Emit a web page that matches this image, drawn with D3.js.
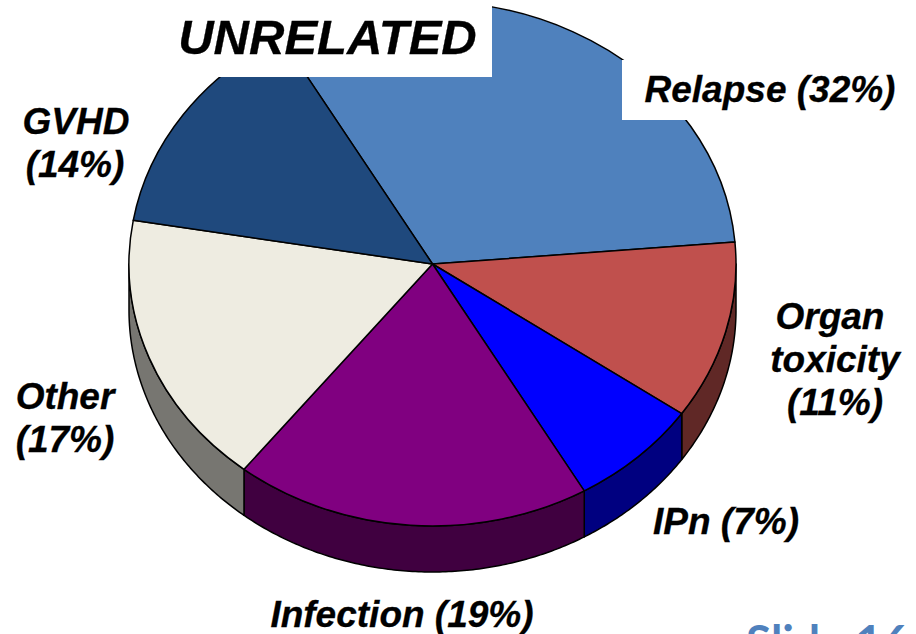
<!DOCTYPE html>
<html><head><meta charset="utf-8">
<script src="https://cdn.jsdelivr.net/npm/d3@7/dist/d3.min.js"></script>
<style>html,body{margin:0;padding:0;background:#fff;overflow:hidden}svg{display:block}
.lab{font-family:"Liberation Sans",Arial,sans-serif;font-weight:bold;font-style:italic;fill:#000;stroke:#000;stroke-width:0.3;text-anchor:middle}</style>
</head><body><svg id="c" width="916" height="634"></svg>
<script>
const categories=["Relapse","Organ toxicity","IPn","Infection","Other","GVHD"];
const values=[32,11,7,19,17,14];
const topColors=["#4f81bd","#c0504d","#0000ff","#800080","#eeece1","#1f497d"];
const sideColors=["#284060","#602826","#000080","#400040","#777671","#102540"];
const labelLines=[["Relapse (32%)"],["Organ","toxicity","(11%)"],["IPn (7%)"],["Infection (19%)"],["Other","(17%)"],["GVHD","(14%)"]];
const labelX=[[770],[830,835,835],[726],[402],[65,65],[76,75]];
const labelY=[102,329,534,627,409,134];
const title="UNRELATED", footer="Slide 16";

const W=916,H=634,cx=432.5,cy=264,rx=303.5,ry=262,depth=46;
const svg=d3.select("#c");
const pie=d3.pie().sort(null).startAngle(-30/180*Math.PI).endAngle((2-30/180)*Math.PI).value(d=>d);
const arcs=pie(values);
const px=a=>cx+rx*Math.sin(a), py=a=>cy-ry*Math.cos(a);
const line=d3.line().x(d=>d[0]).y(d=>d[1]);
const H90=Math.PI/2, H270=3*Math.PI/2;

arcs.forEach((d,i)=>{
  const vis=[[d.startAngle,d.endAngle],[d.startAngle+2*Math.PI,d.endAngle+2*Math.PI]];
  vis.forEach(([s,e])=>{
    const a0=Math.max(s,H90),a1=Math.min(e,H270);
    if(a1<=a0)return;
    const ang=d3.range(a0,a1,0.01).concat([a1]);
    const pts=ang.map(a=>[px(a),py(a)]).concat(ang.slice().reverse().map(a=>[px(a),py(a)+depth]));
    svg.append("path").attr("d",line(pts)+"Z").attr("fill",sideColors[i])
      .attr("stroke","#000").attr("stroke-width",1.5).attr("stroke-linejoin","round");
  });
});

const arcGen=d3.arc().innerRadius(0).outerRadius(rx);
const g=svg.append("g").attr("transform",`translate(${cx},${cy}) scale(1,${ry/rx})`);
g.selectAll("path").data(arcs).join("path").attr("d",arcGen)
  .attr("fill",(d,i)=>topColors[i]).attr("stroke","#000").attr("stroke-width",1.5)
  .attr("stroke-linejoin","round").attr("vector-effect","non-scaling-stroke");

svg.append("rect").attr("x",170).attr("y",0).attr("width",322).attr("height",77).attr("fill","#fff");
svg.append("rect").attr("x",622).attr("y",60).attr("width",280).attr("height",60).attr("fill","#fff");

svg.append("text").attr("class","lab").attr("x",327.5).attr("y",54).attr("font-size",49).text(title);

labelLines.forEach((ls,i)=>{
  const t=svg.append("text").attr("class","lab").attr("y",labelY[i]).attr("font-size",37);
  ls.forEach((l,j)=>t.append("tspan").attr("x",labelX[i][j]).attr("dy",j?43:0).text(l));
});

svg.append("text").attr("x",746).attr("y",658).attr("font-family","Lato, sans-serif").attr("font-weight","bold")
  .attr("font-size",46).attr("fill","#4f81bd").text(footer);
</script></body></html>
